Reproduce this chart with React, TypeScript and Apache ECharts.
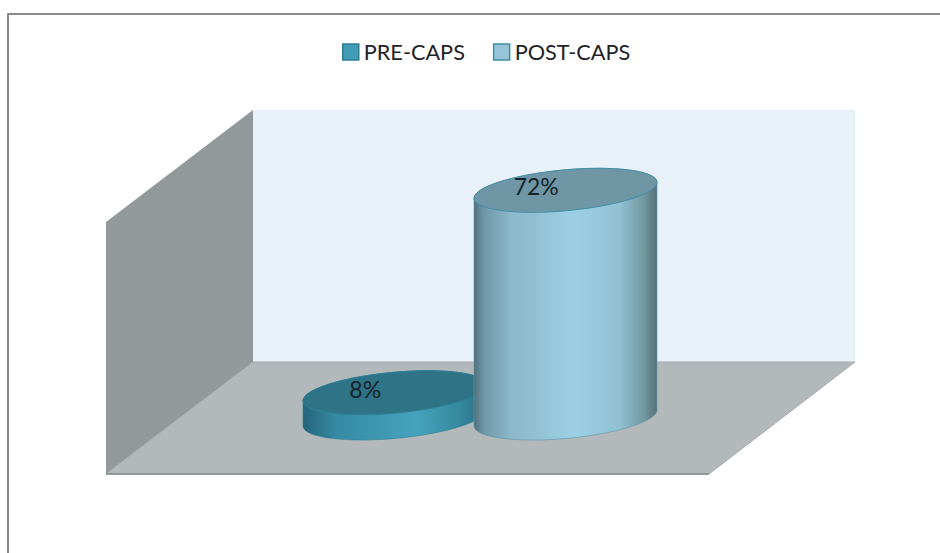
import React, { useEffect, useRef } from "react";
import * as echarts from "echarts";

const categories = ["PRE-CAPS", "POST-CAPS"];
const preCapsValues = [8];
const postCapsValues = [72];

const FONT = "Lato, Carlito, 'Open Sans', sans-serif";

// Tilted ellipse geometry of the cylinder ends, relative to a cylinder's half width
const WIDTH_RATIO = 0.535; // half-width of a cylinder as a share of a category band
const HALF_HEIGHT_RATIO = 0.2404; // half height of the ellipse / half width
const TILT_OFFSET_RATIO = 0.0874; // vertical offset of the side tangents / half width
const ARC_STEPS = 60;

function cylinderItem(faces: any) {
  return (params: any, api: any) => {
    const catIndex = api.value(0);
    const value = api.value(1);
    const top = api.coord([catIndex, value]);
    const base = api.coord([catIndex, 0]);
    const band = api.size([1, 0])[0];
    const W = band * WIDTH_RATIO;
    const o = W * TILT_OFFSET_RATIO;
    const H = W * HALF_HEIGHT_RATIO;
    const k = Math.sqrt(H * H - o * o);
    const cx = top[0];
    const at = (cy: number, t: number) => [
      cx + W * Math.cos(t),
      cy - o * Math.cos(t) + k * Math.sin(t),
    ];
    const lower: number[][] = [];
    const upper: number[][] = [];
    const capNear: number[][] = [];
    for (let i = 0; i <= ARC_STEPS; i++) {
      const t = (Math.PI * i) / ARC_STEPS;
      lower.push(at(base[1], t)); // right tangent to left tangent, along the near side
      upper.push(at(top[1], t + Math.PI)); // left tangent to right tangent, along the far side
      capNear.push(at(top[1], t));
    }
    return {
      type: "group",
      children: [
        {
          type: "polygon",
          shape: { points: lower.concat(upper) },
          style: {
            fill: new echarts.graphic.LinearGradient(0, 0, 1, 0, faces.body),
            stroke: faces.bodyStroke,
            lineWidth: 0.6,
          },
        },
        {
          type: "polygon",
          shape: { points: upper.concat(capNear) },
          style: { fill: faces.cap, stroke: faces.capStroke, lineWidth: 1 },
        },
        {
          type: "text",
          style: {
            text: `${value}%`,
            x: cx - W * 0.32,
            y: top[1] - 4,
            align: "center",
            verticalAlign: "middle",
            fill: "#14232a",
            font: `23px ${FONT}`,
          },
        },
      ],
    };
  };
}

const preFaces = {
  body: [
    { offset: 0, color: "#24647a" },
    { offset: 0.18, color: "#358aa4" },
    { offset: 0.62, color: "#46a3bd" },
    { offset: 0.85, color: "#35899f" },
    { offset: 1, color: "#2a6e82" },
  ],
  bodyStroke: "#2e7f96",
  cap: "#2f7387",
  capStroke: "#2f7f96",
};

const postFaces = {
  body: [
    { offset: 0, color: "#4f6f7c" },
    { offset: 0.05, color: "#6f95a5" },
    { offset: 0.2, color: "#8bb8ca" },
    { offset: 0.55, color: "#9cd0e3" },
    { offset: 0.8, color: "#90c0d2" },
    { offset: 0.93, color: "#71989f" },
    { offset: 1, color: "#566f79" },
  ],
  bodyStroke: "#5b97aa",
  cap: "#6e96a5",
  capStroke: "#3f8ea6",
};

export default function App() {
  const ref = useRef<HTMLDivElement>(null);
  useEffect(() => {
    document.body.style.margin = "0";
    document.body.style.background = "#fff";
    const chart = echarts.init(ref.current!, null, { renderer: "svg" });
    chart.setOption({
      animation: false,
      backgroundColor: "#ffffff",
      textStyle: { fontFamily: FONT },
      grid: { left: 309, top: 165, width: 342, height: 253 },
      xAxis: { type: "category", data: categories, show: false },
      yAxis: { type: "value", min: 0, max: 80, show: false },
      tooltip: { show: false },
      legend: {
        left: 337,
        top: 36,
        itemWidth: 16,
        itemHeight: 16,
        itemGap: 28,
        textStyle: { fontSize: 21.7, color: "#1f2327", fontFamily: FONT },
        data: [
          { name: categories[0], icon: "rect", itemStyle: { color: "#439cb6", borderColor: "#2f7f96", borderWidth: 1.5 } },
          { name: categories[1], icon: "rect", itemStyle: { color: "#97c6da", borderColor: "#3f8ea6", borderWidth: 1.5 } },
        ],
      },
      graphic: [
        {
          type: "polyline",
          z: 0,
          silent: true,
          shape: { points: [[8, 553], [8, 14], [940, 14]] },
          style: { stroke: "#8a8a8a", lineWidth: 2, fill: "none" },
        },
        {
          type: "polygon",
          z: 0,
          silent: true,
          shape: { points: [[253, 110], [855, 110], [855, 362], [253, 362]] },
          style: { fill: "#e8f0f8" },
        },
        {
          type: "polygon",
          z: 0,
          silent: true,
          shape: { points: [[106, 222], [253, 110], [253, 362], [106, 474]] },
          style: { fill: "#93989a" },
        },
        {
          type: "polygon",
          z: 0,
          silent: true,
          shape: { points: [[253, 362], [855, 362], [709, 474], [106, 474]] },
          style: { fill: "#b3b8bb", stroke: "#a6abae", lineWidth: 1 },
        },
        {
          type: "line",
          z: 0,
          silent: true,
          shape: { x1: 106, y1: 474, x2: 709, y2: 474 },
          style: { stroke: "#7f8b8b", lineWidth: 1.5 },
        },
      ],
      series: [
        {
          name: categories[0],
          type: "custom",
          coordinateSystem: "cartesian2d",
          z: 3,
          silent: true,
          clip: false,
          encode: { x: 0, y: 1 },
          renderItem: cylinderItem(preFaces),
          data: preCapsValues.map((v) => [0, v]),
        },
        {
          name: categories[1],
          type: "custom",
          coordinateSystem: "cartesian2d",
          z: 4,
          silent: true,
          clip: false,
          encode: { x: 0, y: 1 },
          renderItem: cylinderItem(postFaces),
          data: postCapsValues.map((v) => [1, v]),
        },
      ],
    });
    return () => chart.dispose();
  }, []);
  return <div ref={ref} style={{ position: "absolute", left: 0, top: 0, width: 940, height: 553 }} />;
}
